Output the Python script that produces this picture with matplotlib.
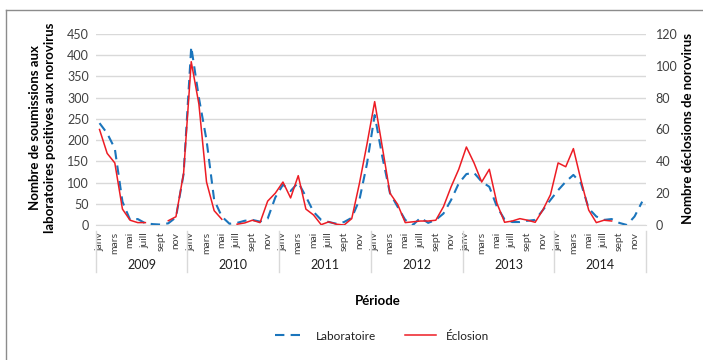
import numpy as np
import matplotlib
matplotlib.use("Agg")
import matplotlib.pyplot as plt
from matplotlib.lines import Line2D

plt.rcParams["font.family"] = ["Lato", "DejaVu Sans"]

nan = np.nan
years = ["2009", "2010", "2011", "2012", "2013", "2014"]
month_labels = ["janv", "mars", "mai", "juill", "sept", "nov"]

# Laboratoire (axe de gauche), mensuel 2009-2014
laboratoire = [
    240, 216, 180, 55, 12, 14, 4, 2, 1, 4, 18, 120,
    420, 300, 200, 59, 20, 3, 5, 10, 12, 8, 15, 65,
    95, 80, 100, 67, 31, 12, 7, 3, 7, 17, 59, 145,
    259, 161, 75, 43, 12, 0, 17, 5, 12, 27, 59, 98,
    120, 123, 102, 90, 43, 13, 7, 7, 10, 12, 35, 59,
    82, 102, 118, 98, 39, 20, 12, 14, 5, 0, 20, 55,
]
# Éclosion (axe de droite)
eclosion = [
    60, 45, 39, 10, 3, 1.5, 1.5, nan, nan, 2.7, 5.2, 32.5,
    102.6, 76, 27, 9, 3.6, nan, 0.5, 1.3, 3, 1.5, 15, 20,
    27, 17, 31, 10, 6.3, 0.2, 2, 0.5, 0, 4, 26, 51,
    77.5, 49, 20, 13, 1.5, 2, 2.5, 2.5, 3, 11.5, 24, 35,
    49, 39, 27, 35, 13.6, 1.7, 2.5, 4, 3, 1.7, 9.4, 19,
    39, 36.6, 48, 28, 9.4, 1.5, 3, 2.5, nan, nan, nan, nan,
]

blue = "#1B75BC"
red = "#ED1C24"
grid = "#D9D9D9"
txt = "#404040"

fig = plt.figure(figsize=(7.03, 3.6), dpi=100)
ax = fig.add_axes([95.7 / 703, 1 - 225 / 360, 550.3 / 703, 191 / 360])
ax2 = ax.twinx()

x = np.arange(len(laboratoire))
ax.plot(x, laboratoire, color=blue, lw=1.5, dashes=(4.5, 3), zorder=3)
ax2.plot(x, eclosion, color=red, lw=1.1, zorder=4)

ax.set_xlim(-0.5, len(x) - 0.5)
ax.set_ylim(0, 450)
ax2.set_ylim(0, 120)
ax.set_yticks(range(0, 451, 50))
ax2.set_yticks(range(0, 121, 20))
ax.yaxis.grid(True, color=grid, lw=1)
ax.set_axisbelow(True)

for a in (ax, ax2):
    for s in a.spines.values():
        s.set_visible(False)
    a.tick_params(axis="y", length=0, labelsize=9, labelcolor=txt)
ax.tick_params(axis="y", pad=5)
ax2.tick_params(axis="y", pad=7)
ax.spines["bottom"].set_visible(True)
ax.spines["bottom"].set_color(grid)

xt = np.arange(0, len(x), 2)
ax.set_xticks(xt)
ax.set_xticklabels([month_labels[(i % 12) // 2] for i in xt], rotation=90,
                   fontsize=7.5, color=txt)
ax.tick_params(axis="x", length=0, pad=5)

trans = ax.get_xaxis_transform()
for k, yr in enumerate(years):
    ax.text(12 * k + 5.5, -0.21, yr, transform=trans, ha="center",
            va="center", fontsize=9, color="#202020")
for k in range(len(years) + 1):
    ax.add_line(Line2D([12 * k - 0.5] * 2, [-0.03, -0.246], transform=trans,
                       color=grid, lw=1, clip_on=False))

fig.text(35 / 703, 1 - 128 / 360, "Nombre de soumissions aux", rotation=90,
         ha="center", va="center", fontsize=9.5, fontweight="bold")
fig.text(50 / 703, 1 - 128 / 360, "laboratoires positives aux norovirus",
         rotation=90, ha="center", va="center", fontsize=9.5, fontweight="bold")
fig.text(688 / 703, 1 - 128 / 360, "Nombre déclosions de norovirus",
         rotation=90, ha="center", va="center", fontsize=9.5, fontweight="bold")
fig.text(378 / 703, 1 - 301 / 360, "Période", ha="center", va="center",
         fontsize=9.5, fontweight="bold")

handles = [Line2D([], [], color=blue, lw=1.5, dashes=(4.5, 3)),
           Line2D([], [], color=red, lw=1.1)]
fig.legend(handles, ["Laboratoire", "Éclosion"], loc="center",
           bbox_to_anchor=(382 / 703, 1 - 336 / 360), ncol=2, frameon=False,
           fontsize=8.5, handlelength=2.6, columnspacing=2.5,
           labelcolor="#202020")

# cadre (haut et gauche seulement visibles)
fig.add_artist(Line2D([6 / 703, 1], [1 - 10 / 360] * 2, color="#8C8C8C", lw=1))
fig.add_artist(Line2D([6 / 703] * 2, [0, 1 - 10 / 360], color="#8C8C8C", lw=1))

fig.savefig("out.png", dpi=100)
